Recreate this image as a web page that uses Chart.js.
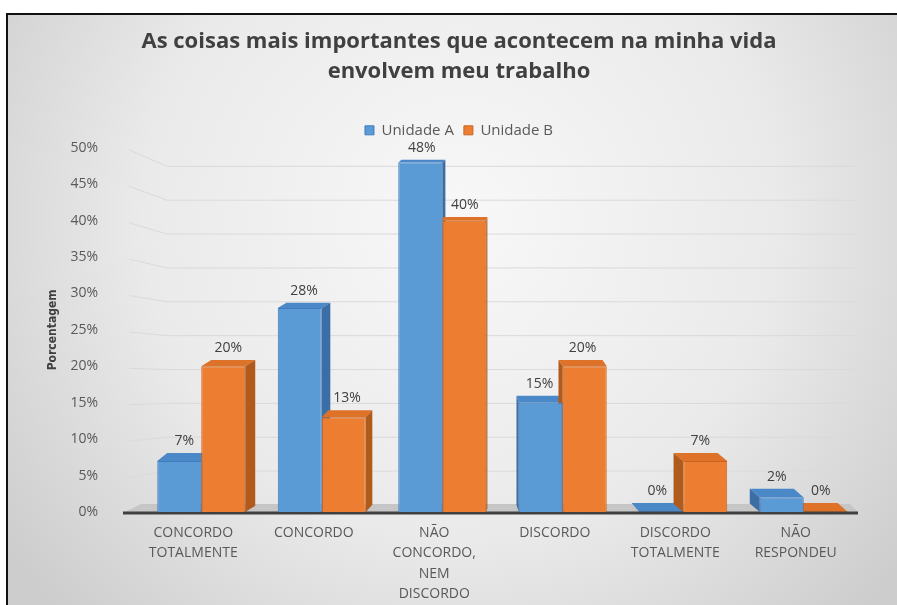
<!DOCTYPE html>
<html>
<head>
<meta charset="utf-8">
<script src="https://cdn.jsdelivr.net/npm/chart.js@4"></script>
<style>
  html, body { margin: 0; padding: 0; background: #fff; }
  #wrap { width: 897px; height: 605px; }
</style>
</head>
<body>
<div id="wrap"><canvas id="chart"></canvas></div>
<script>
const categories = [
    ['CONCORDO', 'TOTALMENTE'],
    ['CONCORDO'],
    ['NÃO', 'CONCORDO,', 'NEM', 'DISCORDO'],
    ['DISCORDO'],
    ['DISCORDO', 'TOTALMENTE'],
    ['NÃO', 'RESPONDEU']
];
const unidadeA = [7, 28, 48, 15, 0, 2];
const unidadeB = [20, 13, 40, 20, 7, 0];
const yMax = 50;
const yStep = 5;

const textGray = '#595959';
const faces = {
    front: ['#5b9bd5', '#ed7d31'],
    edge: ['#3f7cbf', '#c9651f'],
    top: ['#4a88c8', '#de7229'],
    side: ['#3c6ea6', '#b05a1c']
};

// depth of the fake 3d box, depends where the bar sits
function depth(x, y) {
    const dx = Math.max(-10, Math.min(10, (490 - x) * 0.045));
    const dy = 2 + (y - 130) * 0.018;
    return { dx, dy };
}

const background = {
    id: 'background',
    beforeDraw(chart) {
        const ctx = chart.ctx;
        ctx.save();
        ctx.fillStyle = '#fff';
        ctx.fillRect(0, 0, chart.width, chart.height);
        const g = ctx.createRadialGradient(460, 220, 20, 460, 220, 560);
        g.addColorStop(0, '#f7f7f7');
        g.addColorStop(0.55, '#eaeaea');
        g.addColorStop(1, '#cdcdcd');
        ctx.fillStyle = g;
        ctx.fillRect(7, 14, chart.width - 7, chart.height - 14);
        ctx.strokeStyle = '#111';
        ctx.lineWidth = 2;
        ctx.beginPath();
        ctx.moveTo(7, chart.height);
        ctx.lineTo(7, 14);
        ctx.lineTo(chart.width, 14);
        ctx.stroke();
        ctx.restore();
    }
};

const floorAndBoxes = {
    id: 'floorAndBoxes',
    beforeDatasetsDraw(chart) {
        const ctx = chart.ctx;
        const { left, right, bottom } = chart.chartArea;
        const y = chart.scales.y;
        ctx.save();

        // back wall grid lines
        ctx.strokeStyle = '#dadada';
        ctx.lineWidth = 1;
        y.ticks.forEach(t => {
            if (t.value === 0) return;
            const py = y.getPixelForValue(t.value);
            const pb = bottom - 7 - (bottom - py) * 0.93;
            ctx.beginPath();
            ctx.moveTo(left - 12, py + 2);
            ctx.lineTo(left + 26, pb);
            ctx.lineTo(right - 8, pb);
            ctx.stroke();
        });

        // floor
        ctx.fillStyle = '#c6c6c6';
        ctx.beginPath();
        ctx.moveTo(left - 16, bottom);
        ctx.lineTo(right - 6, bottom);
        ctx.lineTo(right - 14, bottom - 8);
        ctx.lineTo(left, bottom - 8);
        ctx.closePath();
        ctx.fill();

        // top and side faces of the bars
        chart.data.datasets.forEach((ds, i) => {
            chart.getDatasetMeta(i).data.forEach(bar => {
                const { x, y: top, base, width } = bar.getProps(['x', 'y', 'base', 'width'], true);
                const x0 = x - width / 2, x1 = x + width / 2;
                const { dx, dy } = depth(x, top);
                ctx.fillStyle = faces.top[i];
                ctx.beginPath();
                ctx.moveTo(x0, top);
                ctx.lineTo(x1, top);
                ctx.lineTo(x1 + dx, top - dy);
                ctx.lineTo(x0 + dx, top - dy);
                ctx.closePath();
                ctx.fill();
                const sx = dx > 0 ? x1 : x0;
                ctx.fillStyle = faces.side[i];
                ctx.beginPath();
                ctx.moveTo(sx, top);
                ctx.lineTo(sx + dx, top - dy);
                ctx.lineTo(sx + dx, base - dy);
                ctx.lineTo(sx, base);
                ctx.closePath();
                ctx.fill();
            });
        });

        // axis line
        ctx.strokeStyle = '#404040';
        ctx.lineWidth = 3;
        ctx.beginPath();
        ctx.moveTo(left - 18, bottom + 1);
        ctx.lineTo(right - 6, bottom + 1);
        ctx.stroke();
        ctx.restore();
    },
    afterDatasetsDraw(chart) {
        const ctx = chart.ctx;
        ctx.save();
        ctx.font = '14px "Open Sans"';
        ctx.fillStyle = '#404040';
        ctx.textAlign = 'center';
        ctx.textBaseline = 'bottom';
        chart.data.datasets.forEach((ds, i) => {
            chart.getDatasetMeta(i).data.forEach((bar, j) => {
                const { x, y: top } = bar.getProps(['x', 'y'], true);
                const { dx, dy } = depth(x, top);
                ctx.fillText(ds.data[j] + '%', x + dx / 2, top - dy - 5);
            });
        });
        ctx.restore();
    }
};

new Chart(document.getElementById('chart'), {
    type: 'bar',
    data: {
        labels: categories,
        datasets: [
            {
                label: 'Unidade A',
                data: unidadeA,
                backgroundColor: faces.front[0],
                borderColor: faces.edge[0],
                borderWidth: 1,
                categoryPercentage: 0.73,
                barPercentage: 1
            },
            {
                label: 'Unidade B',
                data: unidadeB,
                backgroundColor: faces.front[1],
                borderColor: faces.edge[1],
                borderWidth: 1,
                categoryPercentage: 0.73,
                barPercentage: 1
            }
        ]
    },
    plugins: [background, floorAndBoxes],
    options: {
        responsive: true,
        maintainAspectRatio: false,
        animation: false,
        layout: { padding: { left: 21, right: 0, top: 0, bottom: 0 } },
        plugins: {
            title: {
                display: true,
                text: ['As coisas mais importantes que acontecem na minha vida', 'envolvem meu trabalho'],
                color: '#404040',
                font: { family: 'Open Sans', size: 22, weight: 'bold', lineHeight: 1.36 },
                padding: { top: 27, bottom: 26 }
            },
            legend: {
                labels: {
                    boxWidth: 9,
                    boxHeight: 9,
                    padding: 10,
                    color: textGray,
                    font: { family: 'Open Sans', size: 15 }
                }
            },
            tooltip: { enabled: false }
        },
        scales: {
            x: {
                grid: { display: false },
                border: { display: false },
                ticks: {
                    color: textGray,
                    font: { family: 'Open Sans', size: 14, lineHeight: 1.45 },
                    padding: 3,
                    labelOffset: -8,
                    maxRotation: 0,
                    autoSkip: false
                },
                afterFit(s) { s.height = 93; }
            },
            y: {
                min: 0,
                max: yMax,
                grid: { display: false },
                border: { display: false },
                ticks: {
                    stepSize: yStep,
                    color: textGray,
                    font: { family: 'Open Sans', size: 14 },
                    padding: 35,
                    callback: v => v + '%'
                },
                title: {
                    display: true,
                    text: 'Porcentagem',
                    color: '#404040',
                    font: { family: '"DejaVu Sans Condensed", "Liberation Sans"', size: 12, weight: 'bold' },
                    padding: { top: 25 }
                },
                afterFit(s) { s.width = 120; }
            },
            yRight: {
                position: 'right',
                display: true,
                grid: { display: false },
                border: { display: false },
                ticks: { display: false },
                afterFit(s) { s.width = 33; }
            }
        }
    }
});
</script>
</body>
</html>
